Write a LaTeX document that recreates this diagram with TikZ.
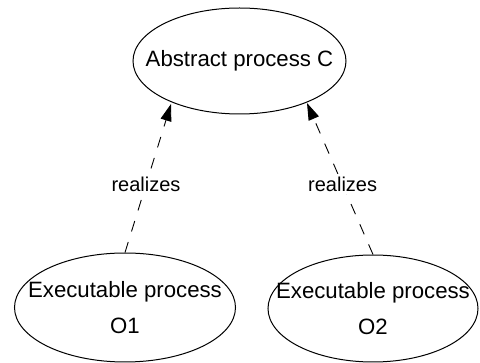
\documentclass[tikz,border=0pt]{standalone}
\usepackage{fontspec}
\setmainfont{Liberation Sans}
\usetikzlibrary{shapes.geometric,arrows.meta}
\begin{document}
\begin{tikzpicture}[x=1pt,y=-1pt,
  proc/.style={draw, ellipse, line width=1pt, inner sep=0pt},
  proctext/.style={inner sep=0pt, align=center, font=\fontsize{22.2}{36}\selectfont},
  realize/.style={draw, line width=0.9pt, dash pattern=on 11pt off 11pt,
    -{Triangle[length=17pt,width=11pt]}},
  lbl/.style={fill=white, inner sep=2pt, font=\fontsize{20}{24}\selectfont}]
  \useasboundingbox (0,0) rectangle (480,363);
  % process ellipses, with their text set separately
  \node[proc, minimum width=213pt, minimum height=106pt] (c) at (239.5,61) {};
  \node[proctext] (ct) at (c.center) {Abstract process C};
  \node[proc, minimum width=221pt, minimum height=109pt] (o1) at (125,307.5) {};
  \node[proctext] (o1t) at (o1.center) {Executable process\\O1};
  \node[proc, minimum width=210pt, minimum height=107pt] (o2) at (373,308.5) {};
  \node[proctext] (o2t) at (o2.center) {Executable process\\O2};
  % end points of the dependencies on the lower rim of the abstract process
  \coordinate (cl) at (171,104);
  \coordinate (cr) at (307,103);
  % realization dependencies
  \draw[realize] (o1.north) -- node[lbl, pos=0.456] (r1) {realizes} (cl);
  \draw[realize] (o2.north) -- node[lbl, pos=0.46] (r2) {realizes} (cr);
\end{tikzpicture}
\end{document}
